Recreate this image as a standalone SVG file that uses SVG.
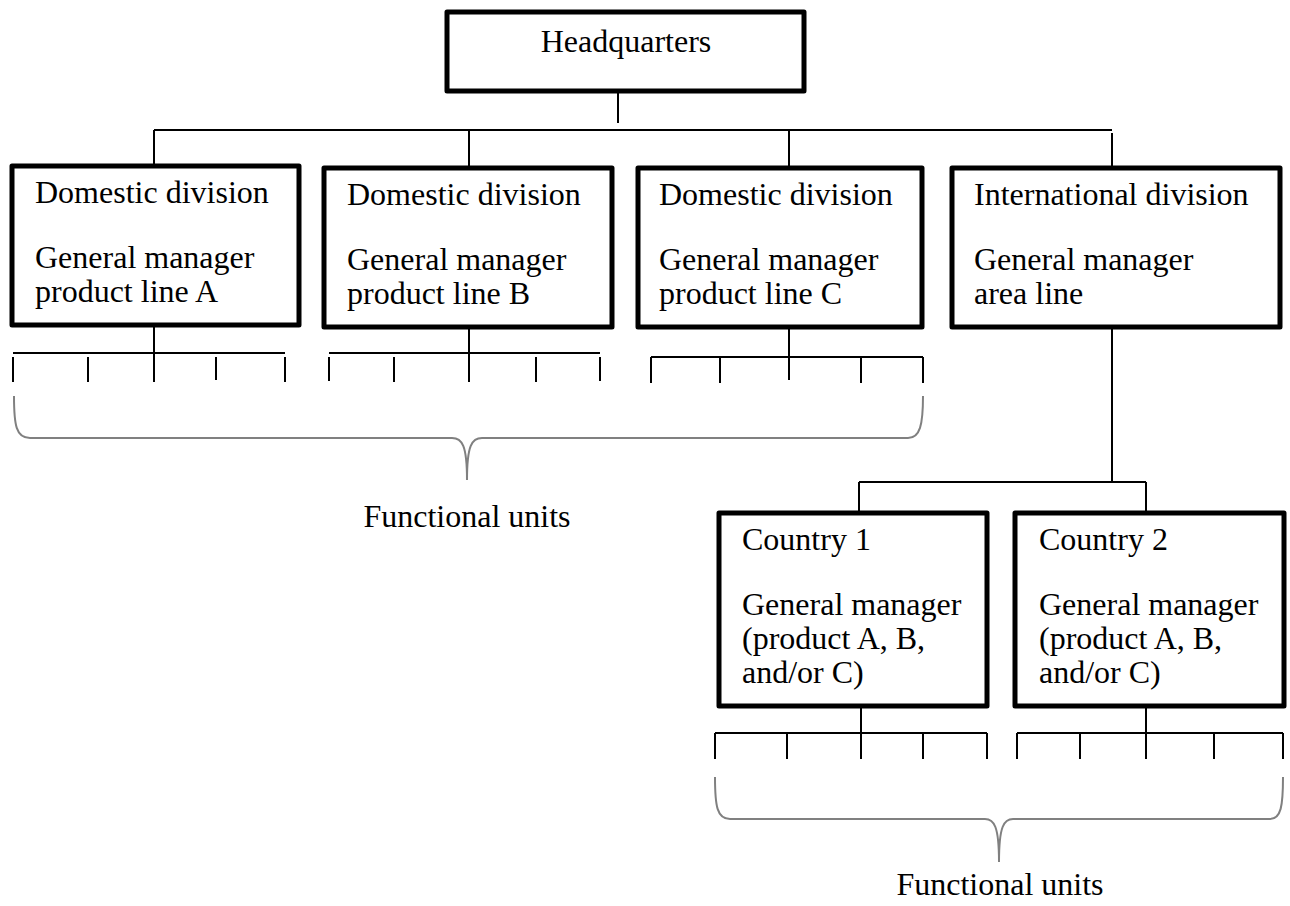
<svg xmlns="http://www.w3.org/2000/svg" width="1290" height="906" viewBox="0 0 1290 906">
<style>
.box{fill:#fff;stroke:#000;stroke-width:5;stroke-linejoin:round}
.ln{stroke:#000;stroke-width:2;fill:none}
.br{stroke:#808080;stroke-width:2;fill:none}
text{font-family:"Liberation Serif","Times New Roman",serif;font-size:32px;fill:#000}
</style>
<rect width="1290" height="906" fill="#fff"/>
<g id="connectors">
<path class="ln" d="M618 93V123M154 130H1112M154 130V166M469 130V168M789 130V168M1112 133V168"/>
<path class="ln" d="M154 325V382M13 353H285M13 357V382M88 357V382M216 357V380M285 357V382"/>
<path class="ln" d="M469 328V382M329 353H600M329 357V381M394 357V382M536 357V382M600 357V381"/>
<path class="ln" d="M789 327V357M651 357H923M651 357V383M720 357V383M789 357V380M861 357V383M923 357V383"/>
<path class="ln" d="M1112 327V482M859 482H1146M859 482V513M1146 482V513"/>
<path class="ln" d="M861 706V733M715 733H987M715 733V759M787 733V759M861 733V759M923 733V759M987 733V759"/>
<path class="ln" d="M1146 706V733M1017 733H1283M1017 733V759M1080 733V759M1146 733V759M1214 733V759M1283 733V759"/>
<path class="br" d="M14 396C14 425 16 438 30 438L452 438C462 438 467 445 467 480C467 445 472 438 482 438L908 438C920 438 923 425 923 396"/>
<path class="br" d="M715 777C715 806 717 819 730 819L985 819C994 819 999 826 999 862C999 826 1004 819 1013 819L1270 819C1281 819 1283 806 1283 777"/>
</g>
<g id="hq">
<rect class="box" x="447" y="12" width="357" height="79"/>
<text x="626" y="52" text-anchor="middle">Headquarters</text>
</g>
<g id="div-a">
<rect class="box" x="12" y="166" width="287" height="159"/>
<text x="35" y="203">Domestic division</text>
<text x="35" y="268">General manager</text>
<text x="35" y="302">product line A</text>
</g>
<g id="div-b">
<rect class="box" x="324" y="168" width="288" height="159"/>
<text x="347" y="205">Domestic division</text>
<text x="347" y="270">General manager</text>
<text x="347" y="304">product line B</text>
</g>
<g id="div-c">
<rect class="box" x="638" y="168" width="284" height="159"/>
<text x="659" y="205">Domestic division</text>
<text x="659" y="270">General manager</text>
<text x="659" y="304">product line C</text>
</g>
<g id="div-intl">
<rect class="box" x="952" y="168" width="328" height="159"/>
<text x="974" y="205">International division</text>
<text x="974" y="270">General manager</text>
<text x="974" y="304">area line</text>
</g>
<g id="country-1">
<rect class="box" x="719" y="513" width="268" height="193"/>
<text x="742" y="550">Country 1</text>
<text x="742" y="615">General manager</text>
<text x="742" y="649">(product A, B,</text>
<text x="742" y="683">and/or C)</text>
</g>
<g id="country-2">
<rect class="box" x="1015" y="513" width="269" height="193"/>
<text x="1039" y="550">Country 2</text>
<text x="1039" y="615">General manager</text>
<text x="1039" y="649">(product A, B,</text>
<text x="1039" y="683">and/or C)</text>
</g>
<g id="label-functional-1">
<text x="467" y="527" text-anchor="middle">Functional units</text>
</g>
<g id="label-functional-2">
<text x="1000" y="895" text-anchor="middle">Functional units</text>
</g>
</svg>
